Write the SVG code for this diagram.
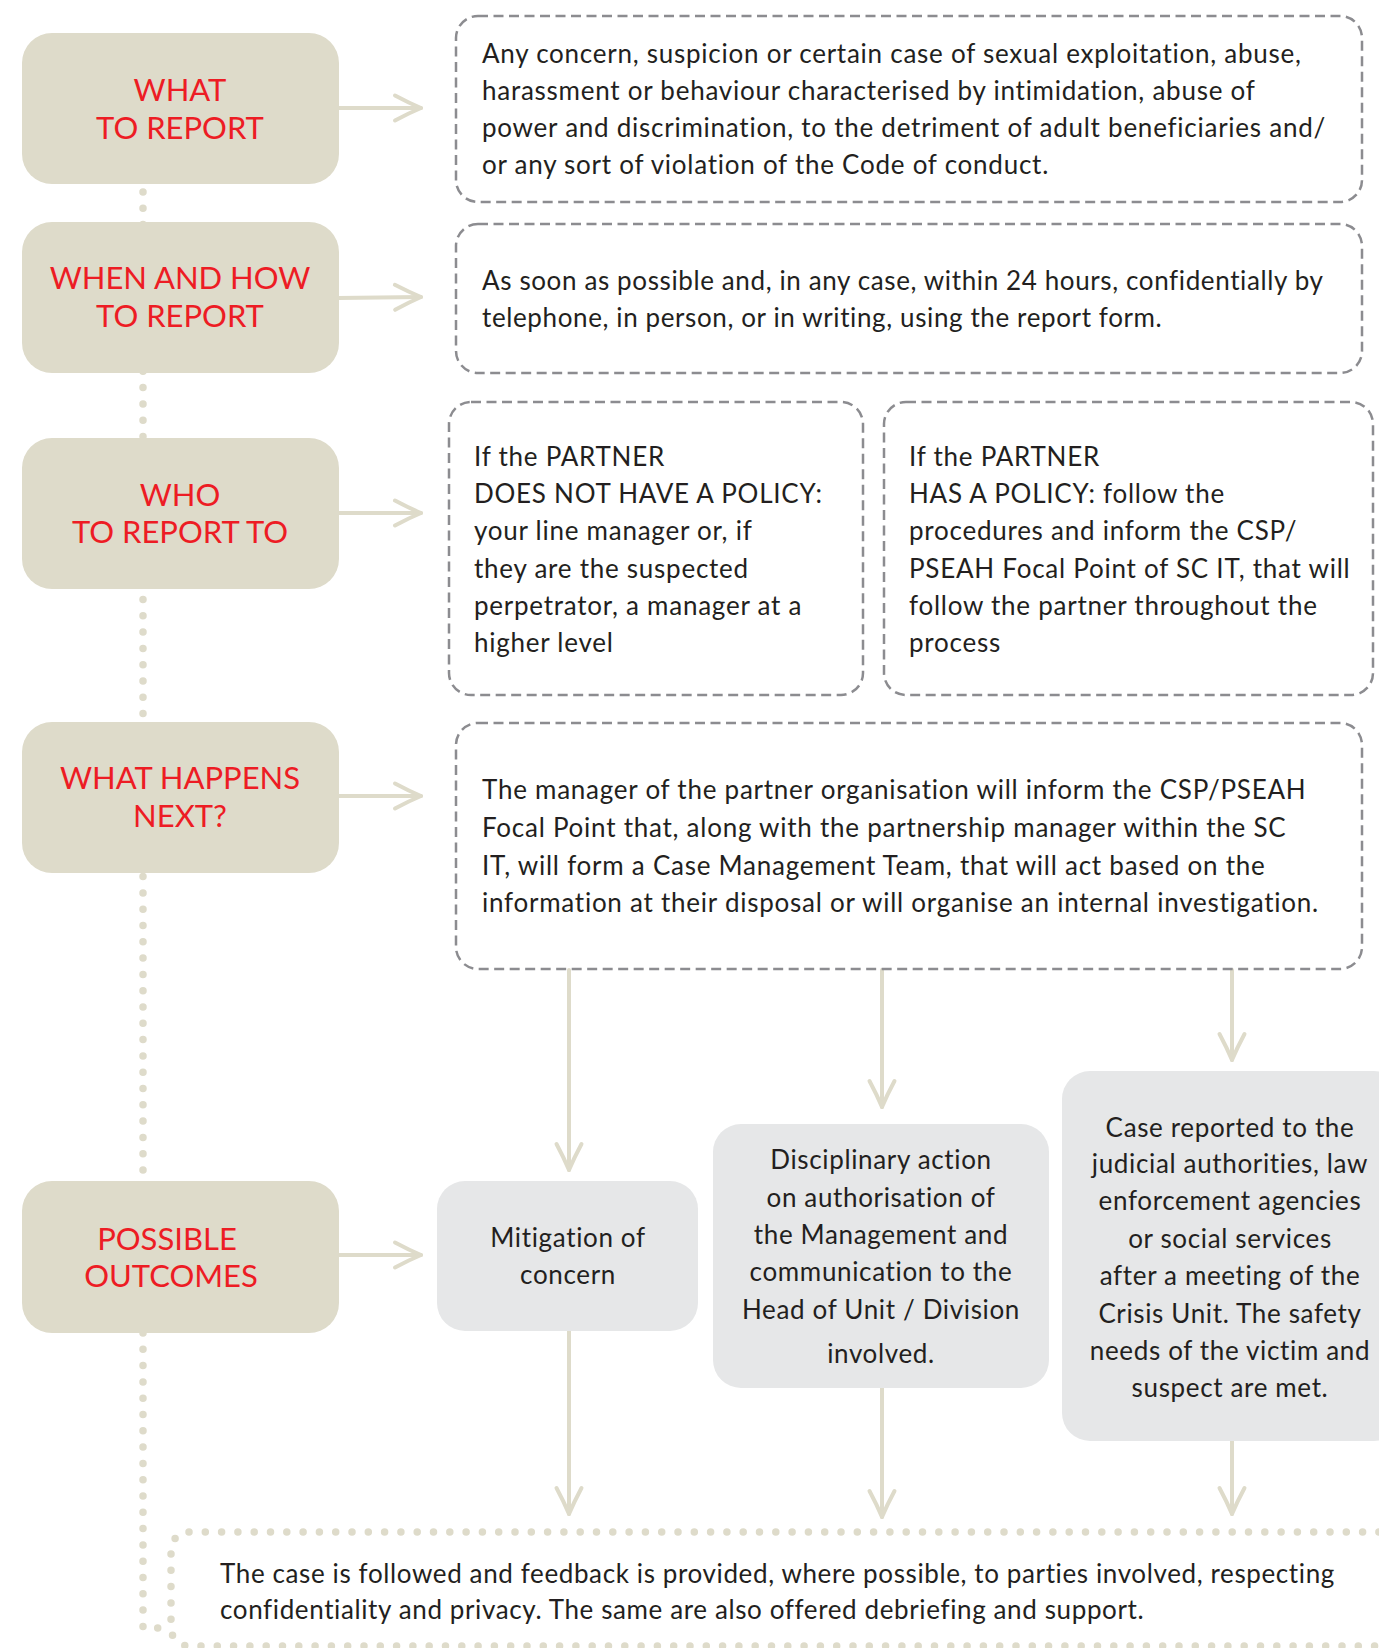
<svg xmlns="http://www.w3.org/2000/svg" width="1379" height="1648" viewBox="0 0 1379 1648">
<style>
.hdr{fill:#dedbca}
.hdrt{font-family:"Lato","Liberation Sans",sans-serif;font-size:31px;fill:#ed1c24;text-anchor:middle}
.dash{fill:none;stroke:#8c8c90;stroke-width:2.5;stroke-dasharray:10 5.5}
.body{font-family:"Lato","Liberation Sans",sans-serif;font-size:26px;letter-spacing:0.75px;fill:#231f20}
.tight{letter-spacing:0.62px}
.out{fill:#e6e7e8}
.outt{font-family:"Lato","Liberation Sans",sans-serif;font-size:26px;letter-spacing:0.65px;fill:#231f20;text-anchor:middle}
.conn{fill:none;stroke:#dedbca;stroke-width:4;stroke-linecap:round;marker-end:url(#chev)}
.dots{fill:none;stroke:#dedbca;stroke-width:7.5;stroke-linecap:round;stroke-dasharray:0 16.3}
</style>
<defs>
<marker id="chev" markerUnits="userSpaceOnUse" viewBox="0 0 32 32" markerWidth="32" markerHeight="32" refX="29" refY="16" orient="auto">
<path d="M3,3.5 Q17,11 29,16 Q17,21 3,28.5" fill="none" stroke="#dedbca" stroke-width="4" stroke-linecap="round" stroke-linejoin="round"/>
</marker>
</defs>
<rect width="1379" height="1648" fill="#ffffff"/>

<g id="connectors">
<path class="dots" d="M143,192 V1628 H163"/>
<path class="conn" d="M338,108 L421,108"/>
<path class="conn" d="M338,298 L421,297"/>
<path class="conn" d="M338,513 L421,513"/>
<path class="conn" d="M338,796 L421,796"/>
<path class="conn" d="M338,1255 L421,1255"/>
<path class="conn" d="M569,970 L569,1170"/>
<path class="conn" d="M882,970 L882,1107"/>
<path class="conn" d="M1232,970 L1232,1060"/>
<path class="conn" d="M569,1331 L569,1514"/>
<path class="conn" d="M882,1387 L882,1517"/>
<path class="conn" d="M1232,1441 L1232,1514"/>
</g>

<g id="what-to-report">
<rect class="hdr" x="22" y="33" width="317" height="151" rx="30"/>
<text class="hdrt" x="180" y="101">WHAT</text>
<text class="hdrt" x="180" y="139">TO REPORT</text>
</g>
<g id="when-and-how">
<rect class="hdr" x="22" y="222" width="317" height="151" rx="30"/>
<text class="hdrt" x="180" y="289">WHEN AND HOW</text>
<text class="hdrt" x="180" y="327">TO REPORT</text>
</g>
<g id="who-to-report-to">
<rect class="hdr" x="22" y="438" width="317" height="151" rx="30"/>
<text class="hdrt" x="180" y="506">WHO</text>
<text class="hdrt" x="180" y="543">TO REPORT TO</text>
</g>
<g id="what-happens-next">
<rect class="hdr" x="22" y="722" width="317" height="151" rx="30"/>
<text class="hdrt" x="180" y="789">WHAT HAPPENS</text>
<text class="hdrt" x="180" y="827">NEXT?</text>
</g>
<g id="possible-outcomes">
<rect class="hdr" x="22" y="1181" width="317" height="152" rx="30"/>
<text class="hdrt" x="167" y="1250">POSSIBLE</text>
<text class="hdrt" x="171" y="1287">OUTCOMES</text>
</g>

<g id="what-text">
<rect class="dash" x="456" y="16" width="906" height="186" rx="22"/>
<text class="body" x="482" y="63">Any concern, suspicion or certain case of sexual exploitation, abuse,</text>
<text class="body" x="482" y="100">harassment or behaviour characterised by intimidation, abuse of</text>
<text class="body" x="482" y="137">power and discrimination, to the detriment of adult beneficiaries and/</text>
<text class="body" x="482" y="174">or any sort of violation of the Code of conduct.</text>
</g>
<g id="when-text">
<rect class="dash" x="456" y="224" width="906" height="149" rx="22"/>
<text class="body tight" x="482" y="290">As soon as possible and, in any case, within 24 hours, confidentially by</text>
<text class="body tight" x="482" y="327">telephone, in person, or in writing, using the report form.</text>
</g>
<g id="no-policy">
<rect class="dash" x="449" y="402" width="414" height="293" rx="22"/>
<text class="body" x="474" y="466">If the PARTNER</text>
<text class="body" x="474" y="503">DOES NOT HAVE A POLICY:</text>
<text class="body" x="474" y="540">your line manager or, if</text>
<text class="body" x="474" y="578">they are the suspected</text>
<text class="body" x="474" y="615">perpetrator, a manager at a</text>
<text class="body" x="474" y="652">higher level</text>
</g>
<g id="has-policy">
<rect class="dash" x="884" y="402" width="489" height="293" rx="22"/>
<text class="body" x="909" y="466">If the PARTNER</text>
<text class="body" x="909" y="503">HAS A POLICY: follow the</text>
<text class="body" x="909" y="540">procedures and inform the CSP/</text>
<text class="body" x="909" y="578">PSEAH Focal Point of SC IT, that will</text>
<text class="body" x="909" y="615">follow the partner throughout the</text>
<text class="body" x="909" y="652">process</text>
</g>
<g id="next-text">
<rect class="dash" x="456" y="723" width="906" height="246" rx="22"/>
<text class="body" x="482" y="799">The manager of the partner organisation will inform the CSP/PSEAH</text>
<text class="body" x="482" y="837">Focal Point that, along with the partnership manager within the SC</text>
<text class="body" x="482" y="875">IT, will form a Case Management Team, that will act based on the</text>
<text class="body" x="482" y="912">information at their disposal or will organise an internal investigation.</text>
</g>

<g id="mitigation">
<rect class="out" x="437" y="1181" width="261" height="150" rx="28"/>
<text class="outt" x="568" y="1247">Mitigation of</text>
<text class="outt" x="568" y="1284">concern</text>
</g>
<g id="disciplinary">
<rect class="out" x="713" y="1124" width="336" height="264" rx="28"/>
<text class="outt" x="881" y="1169">Disciplinary action</text>
<text class="outt" x="881" y="1207">on authorisation of</text>
<text class="outt" x="881" y="1244">the Management and</text>
<text class="outt" x="881" y="1281">communication to the</text>
<text class="outt" x="881" y="1319">Head of Unit / Division</text>
<text class="outt" x="881" y="1363">involved.</text>
</g>
<g id="case-reported">
<rect class="out" x="1062" y="1071" width="340" height="370" rx="28"/>
<text class="outt" x="1230" y="1137">Case reported to the</text>
<text class="outt" x="1230" y="1173">judicial authorities, law</text>
<text class="outt" x="1230" y="1210">enforcement agencies</text>
<text class="outt" x="1230" y="1248">or social services</text>
<text class="outt" x="1230" y="1285">after a meeting of the</text>
<text class="outt" x="1230" y="1323">Crisis Unit. The safety</text>
<text class="outt" x="1230" y="1360">needs of the victim and</text>
<text class="outt" x="1230" y="1397">suspect are met.</text>
</g>
<g id="followup">
<rect class="dots" x="171" y="1532" width="1230" height="114" rx="18"/>
<text class="body tight" x="220" y="1583">The case is followed and feedback is provided, where possible, to parties involved, respecting</text>
<text class="body tight" x="220" y="1619">confidentiality and privacy. The same are also offered debriefing and support.</text>
</g>
</svg>
